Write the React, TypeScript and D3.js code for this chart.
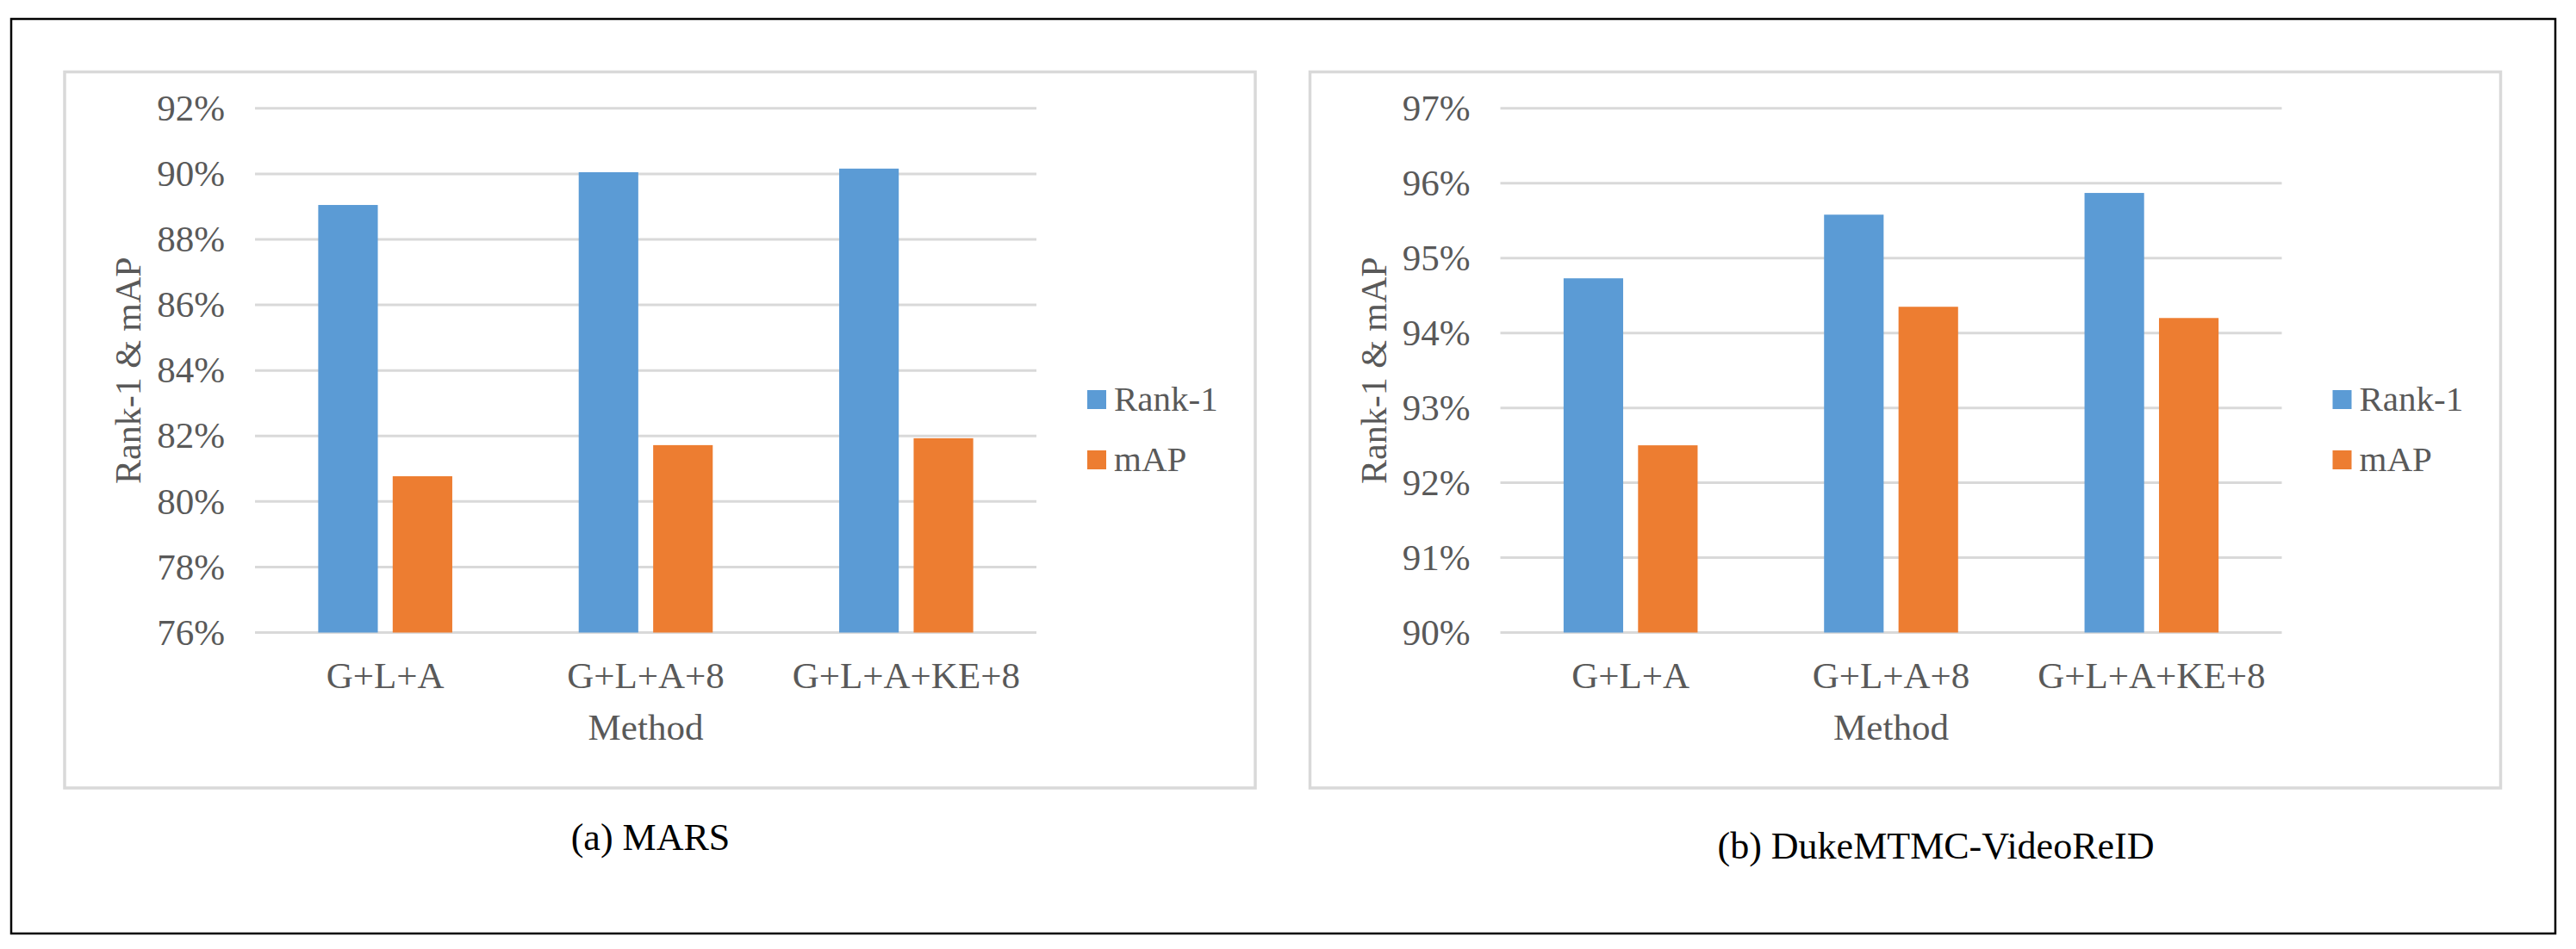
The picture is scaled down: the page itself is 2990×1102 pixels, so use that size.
import * as d3 from "d3"

const methods = ["G+L+A", "G+L+A+8", "G+L+A+KE+8"]
const seriesNames = ["Rank-1", "mAP"]
const colors = ["#5b9bd5", "#ed7d31"]

// (a) MARS
const marsRank1 = [89.05, 90.05, 90.16]
const marsMap = [80.77, 81.72, 81.93]
const marsTicks = [76, 78, 80, 82, 84, 86, 88, 90, 92]

// (b) DukeMTMC-VideoReID
const dukeRank1 = [94.73, 95.58, 95.87]
const dukeMap = [92.5, 94.35, 94.2]
const dukeTicks = [90, 91, 92, 93, 94, 95, 96, 97]

const font = "'Times New Roman', 'Liberation Serif', serif"
const gray = "#595959"

type PanelProps = {
	left: number
	ticks: number[]
	series: number[][]
	caption: string
	captionX: number
	captionY: number
}

const Panel = ({ left, ticks, series, caption, captionX, captionY }: PanelProps) => {
	const boxTop = 83.5
	const boxW = 1382
	const boxH = 831.5
	const px0 = left + 221
	const px1 = left + 1128
	const top = 125.8
	const bottom = 734.5

	const y = d3
		.scaleLinear()
		.domain([ticks[0], ticks[ticks.length - 1]])
		.range([bottom, top])

	const x0 = d3.scaleBand<string>().domain(methods).range([px0, px1])
	const barW = x0.bandwidth() * 0.2287
	const step = barW * 1.25
	const groupW = step * 2 - (step - barW)
	const x1 = d3
		.scaleBand<string>()
		.domain(seriesNames)
		.range([0, groupW])
		.paddingInner((step - barW) / step)

	const plotMid = (px0 + px1) / 2

	return (
		<g>
			<rect x={left} y={boxTop} width={boxW} height={boxH} fill="#fff" stroke="#d9d9d9" strokeWidth={3.5} />
			{ticks.map((t) => (
				<g key={t}>
					<line x1={px0} x2={px1} y1={y(t)} y2={y(t)} stroke="#d9d9d9" strokeWidth={3} />
					<text
						x={px0 - 35}
						y={y(t)}
						dy="0.33em"
						textAnchor="end"
						fontSize={43}
						fill={gray}
						fontFamily={font}
					>
						{t}%
					</text>
				</g>
			))}
			{methods.map((m, i) => {
				const g0 = (x0(m) as number) + (x0.bandwidth() - groupW) / 2
				return (
					<g key={m}>
						{seriesNames.map((s, j) => (
							<rect
								key={s}
								x={g0 + (x1(s) as number)}
								y={y(series[j][i])}
								width={x1.bandwidth()}
								height={bottom - y(series[j][i])}
								fill={colors[j]}
							/>
						))}
						<text
							x={(x0(m) as number) + x0.bandwidth() / 2}
							y={799}
							textAnchor="middle"
							fontSize={43}
							fill={gray}
							fontFamily={font}
						>
							{m}
						</text>
					</g>
				)
			})}
			<text x={plotMid} y={859} textAnchor="middle" fontSize={43} fill={gray} fontFamily={font}>
				Method
			</text>
			<text
				transform={`translate(${left + 88},${(top + bottom) / 2}) rotate(-90)`}
				textAnchor="middle"
				fontSize={42}
				fill={gray}
				fontFamily={font}
			>
				Rank-1 &amp; mAP
			</text>
			{seriesNames.map((s, j) => (
				<g key={s}>
					<rect x={left + 1187} y={453 + j * 70} width={22} height={22} fill={colors[j]} />
					<text x={left + 1218} y={477 + j * 70} fontSize={41} fill={gray} fontFamily={font}>
						{s}
					</text>
				</g>
			))}
			<text x={captionX} y={captionY} textAnchor="middle" fontSize={44} fill="#000" fontFamily={font}>
				{caption}
			</text>
		</g>
	)
}

const App = () => {
	return (
		<div style={{ position: "absolute", left: 0, top: 0 }}>
			<svg width={2990} height={1102} style={{ display: "block", background: "#fff" }}>
				<rect x={0} y={0} width={2990} height={1102} fill="#fff" />
				<rect x={13} y={22} width={2953} height={1062} fill="none" stroke="#000" strokeWidth={2.5} />
				<Panel
					left={75}
					ticks={marsTicks}
					series={[marsRank1, marsMap]}
					caption="(a) MARS"
					captionX={755}
					captionY={987}
				/>
				<Panel
					left={1520.5}
					ticks={dukeTicks}
					series={[dukeRank1, dukeMap]}
					caption="(b) DukeMTMC-VideoReID"
					captionX={2247}
					captionY={997}
				/>
			</svg>
		</div>
	)
}

export default App
